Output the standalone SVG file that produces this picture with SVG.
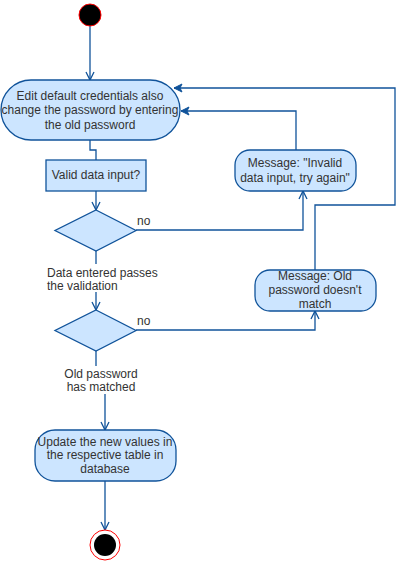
<svg xmlns="http://www.w3.org/2000/svg" width="404" height="561" viewBox="0 0 404 561">
<style>
.box{fill:#cce5ff;stroke:#10539a;stroke-width:1.3}
.edge{fill:none;stroke:#10539a;stroke-width:1.3}
text{font-family:"Liberation Sans",Arial,sans-serif;font-size:12px;fill:#333333}
.c{text-anchor:middle}
</style>
<defs>
<marker id="open" markerUnits="userSpaceOnUse" markerWidth="12" markerHeight="12" viewBox="-10 -6 12 12" refX="0" refY="0" orient="auto">
<path d="M-8,-4 L0,0 L-8,4" fill="none" stroke="#10539a" stroke-width="1.3"/>
</marker>
<marker id="block" markerUnits="userSpaceOnUse" markerWidth="12" markerHeight="12" viewBox="-10 -6 12 12" refX="0" refY="0" orient="auto">
<path d="M-8,-4 L0,0 L-8,4 L-6,0 Z" fill="#10539a" stroke="#10539a" stroke-width="1"/>
</marker>
</defs>
<rect width="404" height="561" fill="#ffffff"/>
<g id="connectors">
<path class="edge" d="M90,26 V80" marker-end="url(#open)"/>
<path class="edge" d="M90,140 V150 H96 V160"/>
<path class="edge" d="M96,191 V210" marker-end="url(#open)"/>
<path class="edge" d="M136,230 H303 V191" marker-end="url(#open)"/>
<path class="edge" d="M296,150 V111 H181" marker-end="url(#block)"/>
<path class="edge" d="M96,251 V310" marker-end="url(#open)"/>
<path class="edge" d="M136,330 H315 V311" marker-end="url(#open)"/>
<path class="edge" d="M315,270 V205 H395 V88 H174" marker-end="url(#block)"/>
<path class="edge" d="M96,351 V380 H105 V430" marker-end="url(#open)"/>
<path class="edge" d="M105,481 V530" marker-end="url(#open)"/>
</g>
<g id="labels">
<rect x="46" y="264" width="100" height="28" fill="#ffffff"/>
<text x="47" y="277">Data entered passes</text>
<text x="47" y="290">the validation</text>
<rect x="66" y="366" width="70" height="28" fill="#ffffff"/>
<text class="c" x="101" y="378">Old password</text>
<text class="c" x="101" y="391">has matched</text>
<text x="137" y="225">no</text>
<text x="137" y="325">no</text>
</g>
<g id="start">
<circle cx="90" cy="15" r="11" fill="#000000" stroke="#ff0000" stroke-width="1"/>
</g>
<g id="edit">
<rect class="box" x="1" y="80" width="179" height="60" rx="30" ry="30"/>
<text class="c" x="90" y="100">Edit default credentials also</text>
<text class="c" x="90" y="114">change the password by entering</text>
<text class="c" x="90" y="129">the old password</text>
</g>
<g id="valid">
<rect class="box" x="46" y="160" width="100" height="31"/>
<text class="c" x="96" y="179">Valid data input?</text>
</g>
<g id="invalid-msg">
<rect class="box" x="235" y="150" width="121" height="41" rx="15" ry="15"/>
<text class="c" x="295" y="167">Message: "Invalid</text>
<text class="c" x="295" y="182">data input, try again"</text>
</g>
<g id="decision1">
<path class="box" d="M96,210 L136,230.5 L96,251 L55,230.5 Z"/>
</g>
<g id="decision2">
<path class="box" d="M96,310 L136,330.5 L96,351 L55,330.5 Z"/>
</g>
<g id="oldpw-msg">
<rect class="box" x="255" y="270" width="121" height="41" rx="15" ry="15"/>
<text class="c" x="315" y="280">Message: Old</text>
<text class="c" x="315" y="294">password doesn't</text>
<text class="c" x="315" y="308">match</text>
</g>
<g id="update">
<rect class="box" x="35" y="430" width="141" height="51" rx="20" ry="20"/>
<text class="c" x="105" y="446">Update the new values in</text>
<text class="c" x="105" y="459">the respective table in</text>
<text class="c" x="105" y="473">database</text>
</g>
<g id="end">
<circle cx="105" cy="545" r="15" fill="#ffffff" stroke="#ff0000" stroke-width="1"/>
<circle cx="105" cy="545" r="11" fill="#000000"/>
</g>
</svg>
